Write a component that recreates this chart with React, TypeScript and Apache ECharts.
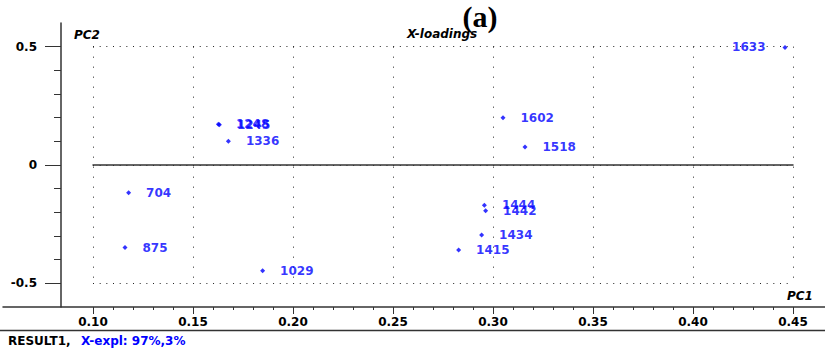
import React, { useEffect, useRef } from "react";
import * as echarts from "echarts";

// ---- data ----
const pointNames = ["1633", "1602", "1518", "1245", "1248", "1336", "704", "875", "1029", "1444", "1442", "1434", "1415"];
const pc1Values = [0.446, 0.305, 0.316, 0.1632, 0.1627, 0.1677, 0.1178, 0.116, 0.1848, 0.2957, 0.2963, 0.2943, 0.2828];
const pc2Values = [0.497, 0.2, 0.076, 0.17, 0.172, 0.1, -0.117, -0.349, -0.447, -0.17, -0.193, -0.296, -0.359];
const leftLabelled = ["1633"];

const xMajorTicks = [0.1, 0.15, 0.2, 0.25, 0.3, 0.35, 0.4, 0.45];
const xMinorTicks = [0.11, 0.12, 0.13, 0.14, 0.16, 0.17, 0.18, 0.19, 0.21, 0.22, 0.23, 0.24, 0.26, 0.27, 0.28, 0.29, 0.31, 0.32, 0.33, 0.34, 0.36, 0.37, 0.38, 0.39, 0.41, 0.42, 0.43, 0.44];
const yMajorTicks = [-0.5, 0, 0.5];
const yMinorTicks = [-0.4, -0.3, -0.2, -0.1, 0.1, 0.2, 0.3, 0.4];

const FONT = "DejaVu Sans";
const AXIS_COLOR = "#333";
const BLUE = "#0000ff";

export default function App() {
  const ref = useRef<HTMLDivElement>(null);

  useEffect(() => {
    if (!ref.current) return;
    const chart = echarts.init(ref.current, null, { renderer: "svg" });

    const data = pointNames.map((n, i) => ({
      name: n,
      value: [pc1Values[i], pc2Values[i]],
      label: leftLabelled.includes(n) ? { position: "left", distance: 17 } : undefined,
    }));

    const hiddenAxis = { show: false };

    const option: any = {
      animation: false,
      backgroundColor: "#fff",
      grid: [
        // x-axis frame
        { left: 3, right: 0, top: 23, height: 284 },
        // y-axis frame
        { left: 61, right: 0, top: 23, height: 284 },
        // plotting area
        { left: 93, width: 700, top: 46.667, height: 236.667 },
      ],
      xAxis: [
        {
          gridIndex: 0,
          type: "value",
          position: "bottom",
          min: 0.055,
          max: 0.466,
          axisLine: { show: true, onZero: false, lineStyle: { color: AXIS_COLOR, width: 1.5 } },
          axisTick: { show: true, customValues: xMajorTicks, length: 7, lineStyle: { color: AXIS_COLOR } },
          axisLabel: {
            show: true,
            customValues: xMajorTicks,
            formatter: (v: number) => v.toFixed(2),
            margin: 9,
            color: "#000",
            fontFamily: FONT,
            fontWeight: "bold",
            fontSize: 12,
          },
          splitLine: { show: false },
        },
        {
          gridIndex: 0,
          type: "value",
          position: "bottom",
          min: 0.055,
          max: 0.466,
          axisLine: { show: false, onZero: false },
          axisTick: { show: true, customValues: xMinorTicks, length: 3, lineStyle: { color: AXIS_COLOR } },
          axisLabel: { show: false },
          splitLine: { show: false },
        },
        { gridIndex: 1, type: "value", min: 0, max: 1, ...hiddenAxis },
        {
          gridIndex: 2,
          type: "value",
          min: 0.1,
          max: 0.45,
          interval: 0.05,
          axisLine: { show: true, onZero: true, lineStyle: { color: AXIS_COLOR, width: 1.5 } },
          axisTick: { show: false },
          axisLabel: { show: false },
          splitLine: { show: true, lineStyle: { color: "#222", width: 1, type: [1, 9] } },
        },
      ],
      yAxis: [
        { gridIndex: 0, type: "value", min: -0.6, max: 0.6, ...hiddenAxis },
        {
          gridIndex: 1,
          type: "value",
          position: "left",
          min: -0.6,
          max: 0.6,
          axisLine: { show: true, onZero: false, lineStyle: { color: AXIS_COLOR, width: 1.5 } },
          axisTick: { show: true, customValues: yMajorTicks, length: 16, lineStyle: { color: AXIS_COLOR } },
          axisLabel: {
            show: true,
            customValues: yMajorTicks,
            formatter: (v: number) => (v === 0 ? "0" : String(v)),
            margin: 24,
            color: "#000",
            fontFamily: FONT,
            fontWeight: "bold",
            fontSize: 12,
          },
          splitLine: { show: false },
        },
        {
          gridIndex: 1,
          type: "value",
          position: "left",
          min: -0.6,
          max: 0.6,
          axisLine: { show: false, onZero: false },
          axisTick: { show: true, customValues: yMinorTicks, length: 7, lineStyle: { color: AXIS_COLOR } },
          axisLabel: { show: false },
          splitLine: { show: false },
        },
        {
          gridIndex: 2,
          type: "value",
          min: -0.5,
          max: 0.5,
          interval: 0.5,
          axisLine: { show: false },
          axisTick: { show: false },
          axisLabel: { show: false },
          splitLine: { show: true, lineStyle: { color: "#222", width: 1, type: [1, 5.67] } },
        },
      ],
      series: [
        {
          type: "scatter",
          xAxisIndex: 3,
          yAxisIndex: 3,
          symbol: "diamond",
          symbolSize: 5,
          itemStyle: { color: BLUE },
          clip: false,
          label: {
            show: true,
            position: "right",
            distance: 15,
            formatter: (p: any) => p.name,
            color: BLUE,
            fontFamily: FONT,
            fontWeight: "bold",
            fontSize: 12,
          },
          data,
        },
      ],
      graphic: [
        {
          type: "line",
          shape: { x1: 0, y1: 330.5, x2: 825, y2: 330.5 },
          style: { stroke: AXIS_COLOR, lineWidth: 1.5 },
        },
        {
          type: "text",
          x: 74,
          y: 35,
          style: { text: "PC2", fontFamily: FONT, fontWeight: "bold", fontStyle: "italic", fontSize: 12, fill: "#000", verticalAlign: "middle" },
        },
        {
          type: "text",
          x: 407,
          y: 34,
          style: { text: "X-loadings", fontFamily: FONT, fontWeight: "bold", fontStyle: "italic", fontSize: 12, fill: "#000", verticalAlign: "middle" },
        },
        {
          type: "text",
          x: 480,
          y: 16,
          style: { text: "(a)", fontFamily: "Liberation Serif", fontWeight: "bold", fontSize: 30, fill: "#000", align: "center", verticalAlign: "middle" },
        },
        {
          type: "text",
          x: 787,
          y: 296,
          style: { text: "PC1", fontFamily: FONT, fontWeight: "bold", fontStyle: "italic", fontSize: 12, fill: "#000", verticalAlign: "middle" },
        },
        {
          type: "text",
          x: 8,
          y: 341,
          style: { text: "RESULT1,", fontFamily: FONT, fontWeight: "bold", fontSize: 12, fill: "#000", verticalAlign: "middle" },
        },
        {
          type: "text",
          x: 81,
          y: 341,
          style: { text: "X-expl: 97%,3%", fontFamily: FONT, fontWeight: "bold", fontSize: 12, fill: BLUE, verticalAlign: "middle" },
        },
      ],
    };

    chart.setOption(option);
    return () => chart.dispose();
  }, []);

  return (
    <div
      ref={ref}
      style={{ position: "fixed", left: 0, top: 0, width: 825, height: 352, background: "#fff" }}
    />
  );
}
